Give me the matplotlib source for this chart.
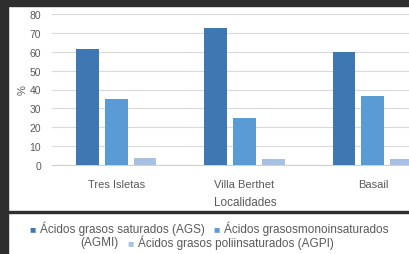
import numpy as np
import matplotlib
matplotlib.use("Agg")
import matplotlib.pyplot as plt
from matplotlib.patches import Rectangle

localidades = ["Tres Isletas", "Villa Berthet", "Basail"]
ags = [61.5, 72.5, 60.0]
agmi = [35.0, 25.0, 36.5]
agpi = [3.5, 3.0, 3.0]
series = ["Ácidos grasos saturados (AGS)",
          "Ácidos grasosmonoinsaturados (AGMI)",
          "Ácidos grasos poliinsaturados (AGPI)"]
colores = ["#3f77b3", "#5b9bd5", "#a7c1e3"]

plt.rcParams['font.family'] = ['Liberation Sans', 'DejaVu Sans']
gris = "#595959"

fig = plt.figure(figsize=(4.1, 2.55), dpi=100)
fig.patch.set_facecolor("white")

ax = fig.add_axes([52/410, 89/255, 385/410, 151/255])
x = np.arange(len(localidades))
ancho = 0.178
paso = 0.225
for i, (vals, col) in enumerate(zip([ags, agmi, agpi], colores)):
    ax.bar(x + (i - 1) * paso, vals, ancho, color=col, zorder=3)

ax.set_xlim(-0.5, 2.5)
ax.set_ylim(0, 80)
ax.set_yticks(range(0, 81, 10))
ax.set_xticks(x)
ax.set_xticklabels(localidades)
ax.yaxis.grid(True, color="#d9d9d9", linewidth=0.8, zorder=0)
for s in ["top", "right", "left"]:
    ax.spines[s].set_visible(False)
ax.spines["bottom"].set_color("#d0d0d0")
ax.tick_params(length=0, labelsize=7.5, colors=gris, pad=8)
ax.tick_params(axis="x", labelsize=8, pad=10)
ax.set_ylabel("%", fontsize=8, color=gris, labelpad=1)
fig.text(245/410, 1 - 203/255, "Localidades", fontsize=8.5, color=gris,
         ha="center", va="center")

# marco oscuro de la captura
oscuro = "#2e2e2e"
fig.patches.append(Rectangle((0, 0), 8/410, 1, transform=fig.transFigure,
                             color=oscuro, zorder=10))
fig.patches.append(Rectangle((0, 1 - 7/255), 1, 7/255, transform=fig.transFigure,
                             color=oscuro, zorder=10))
fig.patches.append(Rectangle((0, 1 - 214/255), 1, 2.5/255, transform=fig.transFigure,
                             color=oscuro, zorder=10))

# leyenda (en dos lineas)
fs = 8.5
fm = 7.5
y1 = 1 - 229/255
y2 = 1 - 243/255
fig.text(29/410, y1, "■", color=colores[0], fontsize=fm, va="center")
fig.text(40/410, y1, series[0], color=gris, fontsize=fs, va="center")
fig.text(213/410, y1, "■", color=colores[1], fontsize=fm, va="center")
fig.text(224/410, y1, "Ácidos grasosmonoinsaturados", color=gris, fontsize=fs, va="center")
fig.text(80/410, y2, "(AGMI)", color=gris, fontsize=fs, va="center")
fig.text(127/410, y2, "■", color=colores[2], fontsize=fm, va="center")
fig.text(138/410, y2, series[2], color=gris, fontsize=fs, va="center")

fig.savefig("out.png", dpi=100)
